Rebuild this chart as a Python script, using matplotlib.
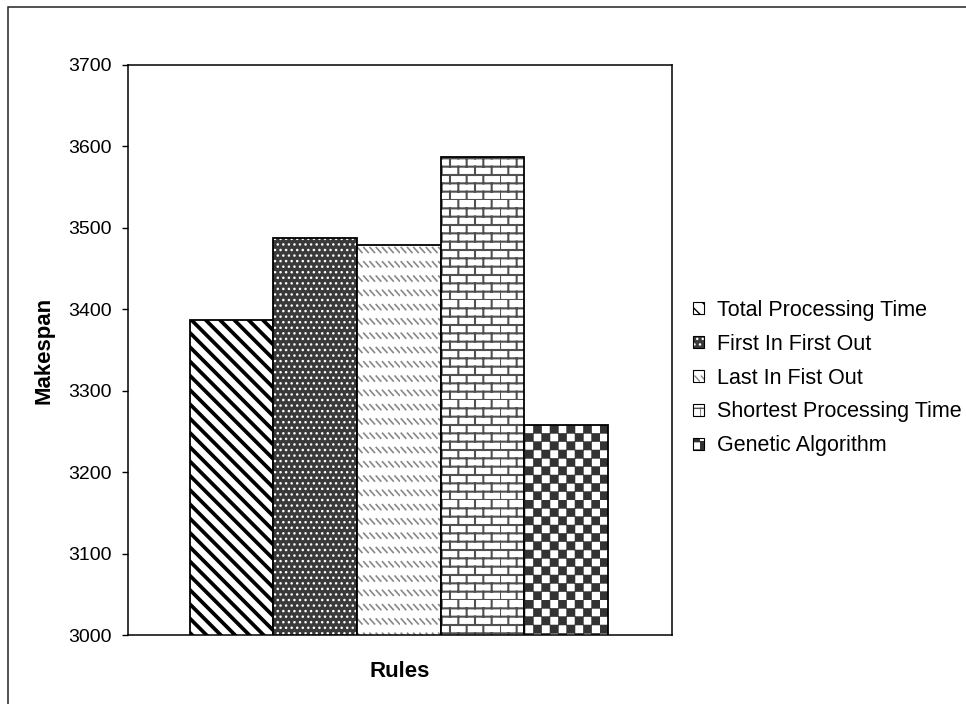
import warnings

import matplotlib

matplotlib.use("Agg")
import matplotlib.pyplot as plt
import numpy as np
from matplotlib import hatch as mhatch
from matplotlib.patches import Rectangle
from matplotlib.path import Path

rules = [
    "Total Processing Time",
    "First In First Out",
    "Last In Fist Out",
    "Shortest Processing Time",
    "Genetic Algorithm",
]
makespan = [3387, 3488, 3479, 3587, 3258]
y_ticks = [3000, 3100, 3200, 3300, 3400, 3500, 3600, 3700]

# fill pattern per rule: (facecolor, hatch, hatch colour, hatch linewidth)
styles = [
    ("white", "s", "black", 2.7),
    ("#3a3a3a", "...", "white", 1.0),
    ("white", "d", "#888888", 1.2),
    ("white", "b", "#505050", 1.5),
    ("white", "c", "#333333", 0.4),
]


# --- extra hatch textures (stripes, bricks, dash rows, checkerboard) --------
def _stripes(n=7):
    # backslash stripes, top-left to bottom-right
    segs = []
    for k in range(-n, n + 1):
        x0 = k / n
        segs.append([(x0, 1), (x0 + 1, 0)])
    return segs, False


def _bricks(rows=12, cols=6):
    h, w = 1.0 / rows, 1.0 / cols
    segs = []
    for r in range(rows):
        y = r * h
        segs.append([(0, y), (1, y)])
        off = 0 if r % 2 == 0 else w / 2
        for c in range(cols):
            x = off + c * w
            segs.append([(x, y), (x, y + h)])
    return segs, False


def _dashes(rows=7, cols=16):
    segs = []
    for r in range(rows):
        y = (r + 0.5) / rows
        for c in range(cols):
            x = (c + 0.2) / cols
            segs.append([(x, y + 0.025), (x + 0.045, y - 0.025)])
    return segs, False


def _checker(n=12):
    s = 1.0 / n
    polys = []
    for i in range(n):
        for j in range(n):
            if (i + j) % 2 == 0:
                x, y = i * s, j * s
                polys.append([(x, y), (x + s, y), (x + s, y + s), (x, y + s), (x, y)])
    return polys, True


CUSTOM = {"s": _stripes, "b": _bricks, "d": _dashes, "c": _checker}


class PatternHatch(mhatch.HatchPatternBase):
    def __init__(self, hatch, density):
        verts, codes = [], []
        for ch, builder in CUSTOM.items():
            if ch not in hatch:
                continue
            shapes, closed = builder()
            for shp in shapes:
                verts.extend(shp)
                codes.append(Path.MOVETO)
                codes.extend([Path.LINETO] * (len(shp) - 2))
                codes.append(Path.CLOSEPOLY if closed else Path.LINETO)
        self.verts = np.array(verts, dtype=float).reshape(-1, 2)
        self.codes = np.array(codes, dtype=Path.code_type)
        self.num_vertices = len(self.verts)

    def set_vertices_and_codes(self, vertices, codes):
        vertices[:] = self.verts
        codes[:] = self.codes


mhatch._hatch_types.append(PatternHatch)
warnings.filterwarnings("ignore", category=matplotlib.MatplotlibDeprecationWarning)

plt.rcParams["font.family"] = ["Liberation Sans", "DejaVu Sans"]

fig = plt.figure(figsize=(9.66, 7.04), dpi=100)
ax = fig.add_axes([0.1325, 0.098, 0.5631, 0.8097])

x = np.arange(len(rules)) - (len(rules) - 1) / 2
handles = []
for xi, val, name, (fc, hatch, hc, hlw) in zip(x, makespan, rules, styles):
    with plt.rc_context({"hatch.linewidth": hlw}):
        bars = ax.bar(xi, val, width=1.0, color=fc, edgecolor="black",
                      linewidth=1.3, hatch=hatch, label=name, zorder=2)
    for p in bars.patches:
        if hasattr(p, "set_hatch_linewidth"):
            p.set_hatch_linewidth(hlw)
        p._hatch_color = matplotlib.colors.to_rgba(hc)  # hatch colour separate from edge
    handles.append(bars)

ax.set_xlim(-3.24, 3.265)
ax.set_ylim(y_ticks[0], y_ticks[-1])
ax.set_yticks(y_ticks)
ax.set_xticks([])
ax.tick_params(axis="y", direction="out", length=4.5, width=1, labelsize=14, pad=7)
for sp in ax.spines.values():
    sp.set_linewidth(1.1)

ax.set_ylabel("Makespan", fontsize=16, fontweight="bold", labelpad=10)
ax.set_xlabel("Rules", fontsize=16, fontweight="bold", labelpad=19)

leg = fig.legend(handles=handles, labels=rules, loc="center left",
                 bbox_to_anchor=(693 / 966, 1 - 378 / 704), frameon=False,
                 fontsize=15.5, handlelength=0.5, handleheight=0.5,
                 handletextpad=0.6, labelspacing=0.6, borderpad=0,
                 borderaxespad=0)
for h in leg.legend_handles:
    h.set_linewidth(0.8)

# outer chart frame (top and left edges visible, the rest runs off the image)
fig.add_artist(Rectangle((8 / 966, -0.1), 1.2, 1.1 - 7 / 704, transform=fig.transFigure,
                         fill=False, edgecolor="#222222", linewidth=1.1))

fig.savefig("out.png", dpi=100)
